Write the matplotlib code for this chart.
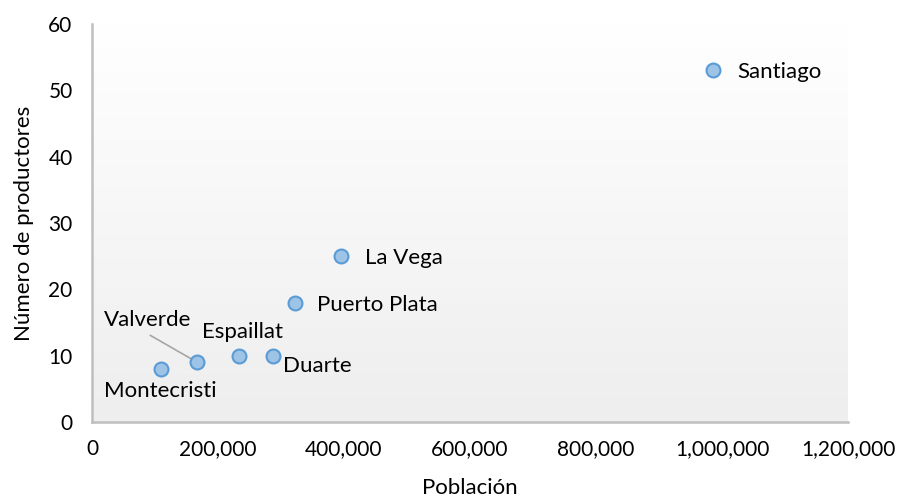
import matplotlib
matplotlib.use("Agg")
import matplotlib.pyplot as plt
import numpy as np
from matplotlib.ticker import FuncFormatter

provincias = ["Santiago", "La Vega", "Puerto Plata", "Duarte", "Espaillat", "Valverde", "Montecristi"]
poblacion = [985000, 395000, 322000, 288000, 233000, 167000, 110000]
productores = [53, 25, 18, 10, 10, 9, 8]

# label offsets in pixels (dx, dy), and whether to draw a leader line
offsets_px = {
    "Santiago": (25, -2, False),
    "La Vega": (24, -2, False),
    "Puerto Plata": (22, -2, False),
    "Duarte": (10, -10, False),
    "Espaillat": (-37, 24, False),
    "Valverde": (-93, 42, True),
    "Montecristi": (-57, -22, False),
}

plt.rcParams['font.family'] = ['Lato', 'DejaVu Sans']

fig = plt.figure(figsize=(9.01, 4.98), dpi=100)
ax = fig.add_axes([92/901, 1 - 422/498, (848-92)/901, (422-24)/498])

# gradient background (white top to light grey bottom)
grad = np.linspace(0.0, 1.0, 256).reshape(-1, 1)
ax.imshow(grad, extent=[0, 1, 0, 1], transform=ax.transAxes, aspect='auto',
          cmap=matplotlib.colors.LinearSegmentedColormap.from_list('g', ['#ffffff', '#eeeeee']),
          zorder=0)

ax.scatter(poblacion, productores, s=100, facecolor='#9dc3e6', edgecolor='#5b9bd5',
           linewidth=1.5, zorder=3)

for name, x, y in zip(provincias, poblacion, productores):
    dx, dy, line = offsets_px[name]
    ax.annotate(name, (x, y), xytext=(dx * 0.72, dy * 0.72), textcoords='offset points',
                ha='left', va='center', fontsize=16, color='#000000', zorder=4)
    if line:
        ax.annotate('', (x, y), xytext=(-47 * 0.72, 27 * 0.72), textcoords='offset points',
                    arrowprops=dict(arrowstyle='-', color='#a6a6a6', lw=1.2,
                                    shrinkA=0, shrinkB=0), zorder=2)

ax.set_xlim(0, 1200000)
ax.set_ylim(0, 60)
ax.set_xticks(np.arange(0, 1200001, 200000))
ax.set_yticks(np.arange(0, 61, 10))
ax.xaxis.set_major_formatter(FuncFormatter(lambda v, p: f"{int(v):,}"))
ax.tick_params(axis='both', length=0, labelsize=15, colors='#000000')
ax.tick_params(axis='x', pad=12)
ax.tick_params(axis='y', pad=14)

for s in ['top', 'right']:
    ax.spines[s].set_visible(False)
for s in ['left', 'bottom']:
    ax.spines[s].set_color('#bfbfbf')
    ax.spines[s].set_linewidth(1.8)

ax.set_xlabel("Población", fontsize=16, labelpad=14)
ax.set_ylabel("Número de productores", fontsize=16, labelpad=10)

fig.savefig("out.png", dpi=100)
